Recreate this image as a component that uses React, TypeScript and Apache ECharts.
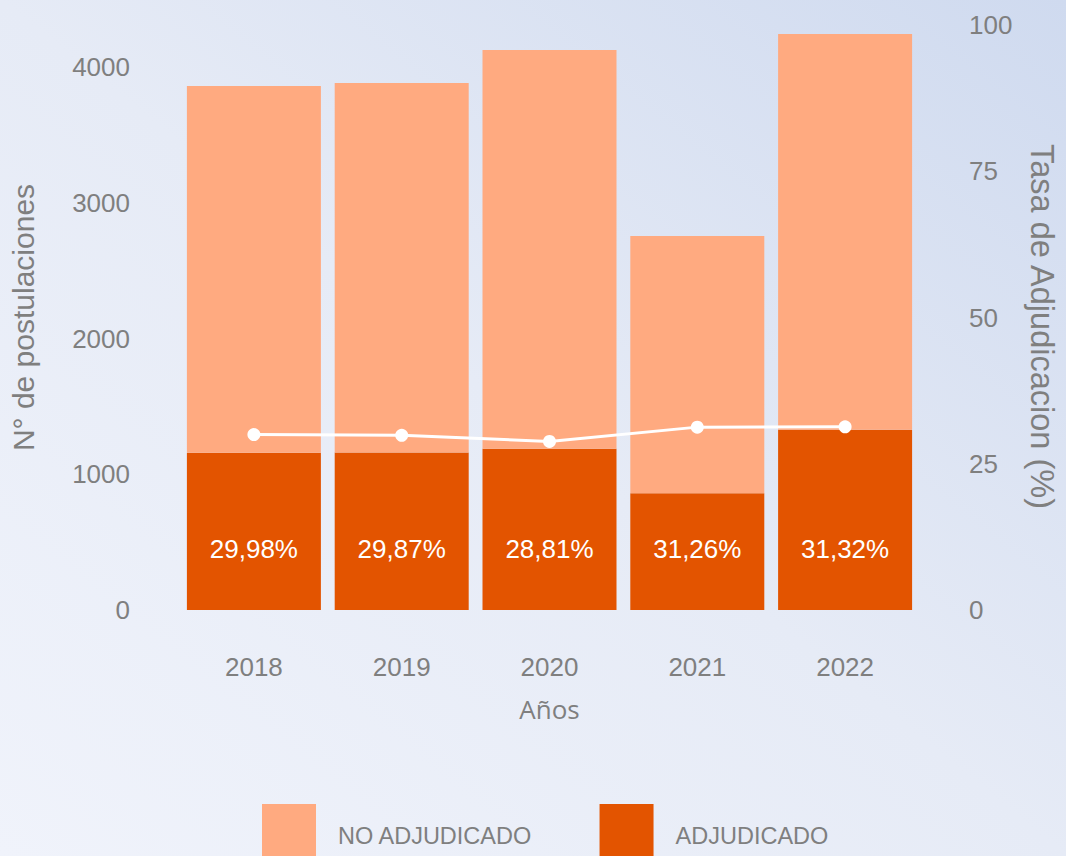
import React, { useEffect, useRef } from "react";
import * as echarts from "echarts";

const years = ["2018", "2019", "2020", "2021", "2022"];
const adjudicado = [1159, 1160, 1188, 860, 1328];
const noAdjudicado = [2701, 2722, 2937, 1895, 2915];
const tasa = [29.98, 29.87, 28.81, 31.26, 31.32];
const tasaLabels = ["29,98%", "29,87%", "28,81%", "31,26%", "31,32%"];

const GREY = "#7f7f7f";
const LIGHT = "#FFAA80";
const DARK = "#E35400";
const FONT = "'Liberation Sans', Arial, sans-serif";

export default function App() {
  const ref = useRef<HTMLDivElement>(null);
  useEffect(() => {
    if (!ref.current) return;
    const chart = echarts.init(ref.current, undefined, { renderer: "svg" });
    chart.setOption({
      animation: false,
      backgroundColor: {
        type: "linear",
        x: 0,
        y: 1,
        x2: 1,
        y2: 0,
        colorStops: [
          { offset: 0, color: "#f0f3fb" },
          { offset: 0.5, color: "#e6ebf6" },
          { offset: 1, color: "#cfdaef" },
        ],
      },
      textStyle: { fontFamily: FONT },
      grid: { left: 180, right: 144, top: 25, bottom: 246 },
      legend: {
        left: 262,
        top: 804,
        padding: 0,
        itemWidth: 54,
        itemHeight: 64,
        itemGap: 67,
        icon: "rect",
        data: ["NO ADJUDICADO", "ADJUDICADO"],
        textStyle: { color: GREY, fontSize: 23.5, fontFamily: FONT, padding: [0, 0, 0, 17] },
      },
      xAxis: {
        type: "category",
        data: years,
        name: "Años",
        nameLocation: "middle",
        nameGap: 86,
        nameTextStyle: { color: GREY, fontSize: 26, fontFamily: "'Open Sans', sans-serif" },
        axisLine: { show: false },
        axisTick: { show: false },
        axisLabel: { color: GREY, fontSize: 26, margin: 44, fontFamily: FONT },
      },
      yAxis: [
        {
          type: "value",
          min: 0,
          max: 4310,
          interval: 1000,
          name: "N° de postulaciones",
          nameLocation: "middle",
          nameRotate: 90,
          nameGap: 142,
          nameTextStyle: { color: GREY, fontSize: 30, fontFamily: FONT },
          splitLine: { show: false },
          axisLine: { show: false },
          axisTick: { show: false },
          axisLabel: {
            color: GREY,
            fontSize: 26,
            margin: 50,
            showMaxLabel: false,
            fontFamily: FONT,
            formatter: (v: number) => String(v),
          },
        },
        {
          type: "value",
          min: 0,
          max: 100,
          interval: 25,
          name: "Tasa de Adjudicacion (%)",
          nameLocation: "middle",
          nameRotate: -90,
          nameGap: 106,
          nameTextStyle: { color: GREY, fontSize: 32.5, fontFamily: FONT, padding: [0, 0, 0, 18] },
          splitLine: { show: false },
          axisLine: { show: false },
          axisTick: { show: false },
          axisLabel: { color: GREY, fontSize: 26, margin: 50, fontFamily: FONT },
        },
      ],
      series: [
        {
          name: "ADJUDICADO",
          type: "bar",
          stack: "total",
          barWidth: 134,
          data: adjudicado,
          itemStyle: { color: DARK },
          label: {
            show: true,
            position: "insideBottom",
            distance: 48,
            color: "#ffffff",
            fontSize: 26,
            fontFamily: FONT,
            formatter: (p: any) => tasaLabels[p.dataIndex],
          },
        },
        {
          name: "NO ADJUDICADO",
          type: "bar",
          stack: "total",
          barWidth: 134,
          data: noAdjudicado,
          itemStyle: { color: LIGHT },
        },
        {
          name: "Tasa",
          type: "line",
          yAxisIndex: 1,
          data: tasa,
          z: 5,
          symbol: "circle",
          symbolSize: 13,
          lineStyle: { color: "#ffffff", width: 3 },
          itemStyle: { color: "#ffffff" },
        },
      ],
    });
    return () => chart.dispose();
  }, []);
  return (
    <div
      ref={ref}
      style={{ position: "fixed", left: 0, top: 0, width: 1066, height: 856 }}
    />
  );
}
